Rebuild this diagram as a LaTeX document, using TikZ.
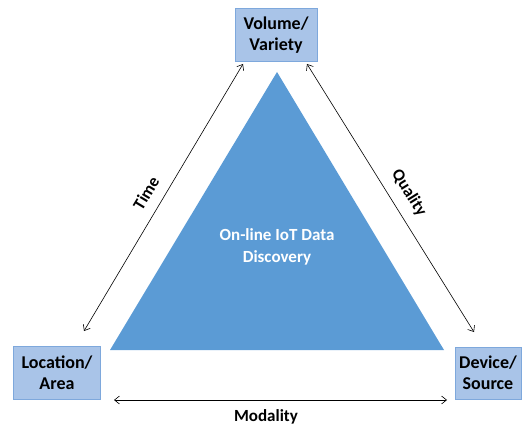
\documentclass[tikz,border=0pt]{standalone}
\usepackage{fontspec}
\setmainfont{Carlito}
\usetikzlibrary{arrows.meta}
\definecolor{boxfill}{HTML}{A9C4E8}
\definecolor{boxedge}{HTML}{7EA8DC}
\definecolor{trifill}{HTML}{5B9BD5}
\begin{document}
\begin{tikzpicture}[x=1pt,y=-1pt,
  corner/.style={draw=boxedge,fill=boxfill,line width=1pt,align=center,
    font=\bfseries\fontsize{18}{21}\selectfont,inner sep=0pt},
  link/.style={{Straight Barb[length=5pt,width=8pt]}-{Straight Barb[length=5pt,width=8pt]},line width=0.6pt},
  edgelabel/.style={font=\bfseries\fontsize{17}{20}\selectfont,inner sep=1pt}]
  \useasboundingbox (0,0) rectangle (522,428);
  % central triangle
  \fill[trifill] (277,72) -- (444,350) -- (110,350) -- cycle;
  \node[white,align=center,font=\bfseries\fontsize{17}{22}\selectfont] (core) at (277,247)
    {On-line IoT Data\\Discovery};
  % corner boxes
  \node[corner,minimum width=82pt,minimum height=53pt] (vol) at (276,35) {Volume/\\Variety};
  \node[corner,minimum width=87pt,minimum height=53pt] (loc) at (57,373) {Location/\\Area};
  \node[corner,minimum width=66pt,minimum height=52pt] (dev) at (488,373) {Device/\\Source};
  % connectors between the corners
  \coordinate (t1) at (84,331);
  \coordinate (t2) at (243,64);
  \coordinate (q1) at (307,64);
  \coordinate (q2) at (474,332);
  \coordinate (m1) at (114,400);
  \coordinate (m2) at (447,400);
  \draw[link] (t1) -- (t2);
  \draw[link] (q1) -- (q2);
  \draw[link] (m1) -- (m2);
  % connector labels
  \node[edgelabel,rotate=59] (time) at (146,193) {Time};
  \node[edgelabel,rotate=-58] (qual) at (409,193) {Quality};
  \node[edgelabel] (mod) at (266,417) {Modality};
\end{tikzpicture}
\end{document}
